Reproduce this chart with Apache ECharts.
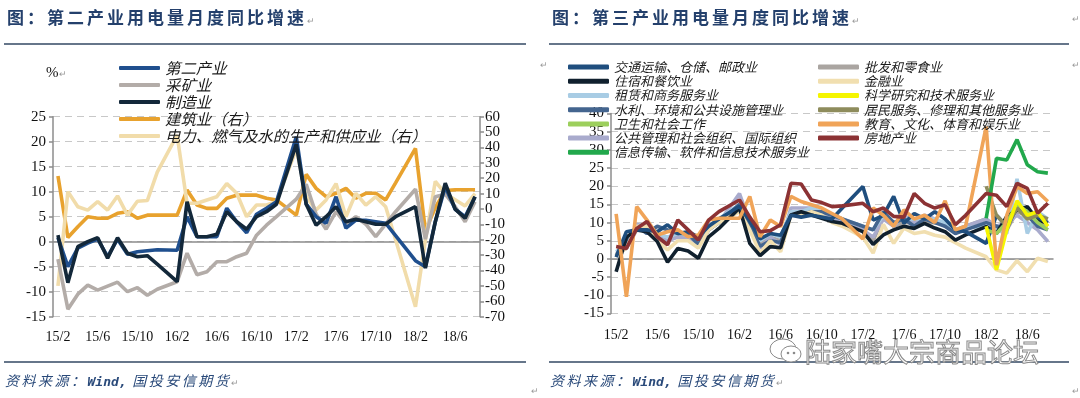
<!DOCTYPE html>
<html lang="zh">
<head>
<meta charset="UTF-8">
<title>用电量月度同比增速</title>
<script src="https://cdn.jsdelivr.net/npm/echarts@6/dist/echarts.min.js"></script>
<style>
    html,
    body {
        margin: 0;
        padding: 0;
    }

    body {
        width: 1080px;
        height: 398px;
        position: relative;
        overflow: hidden;
        background: #fff;
        font-family: "Noto Sans CJK SC", sans-serif;
    }

    .chart {
        position: absolute;
        top: 0;
        width: 540px;
        height: 398px;
    }

    .title {
        position: absolute;
        top: 5px;
        line-height: 24px;
        font-size: 17px;
        font-weight: bold;
        letter-spacing: 3px;
        color: #24406c;
    }

    .rule {
        position: absolute;
        height: 2px;
        background: #66768a;
    }

    .source {
        position: absolute;
        top: 370px;
        line-height: 20px;
        font-size: 14px;
        font-style: italic;
        letter-spacing: 2.5px;
        color: #2a4a7a;
    }

    .source b {
        font-family: "DejaVu Sans Mono", monospace;
        font-size: 13px;
        letter-spacing: 0;
    }

    .mark {
        font-size: 9px;
        color: #9a9a9a;
        font-weight: normal;
        font-style: normal;
        letter-spacing: 0;
    }

    .pos {
        position: absolute;
    }

    .pct {
        position: absolute;
        left: 46px;
        top: 64px;
        font-size: 15px;
        font-family: "Liberation Serif", serif;
        color: #111;
    }

    .wm {
        position: absolute;
        left: 805px;
        top: 334px;
        line-height: 34px;
        font-size: 26px;
        color: #fff;
        -webkit-text-stroke: 1px #8a8a8a;
    }
</style>
</head>
<body>
<div class="chart" id="c1" style="left:0"></div>
<div class="chart" id="c2" style="left:540px"></div>

<div class="title" style="left:7px">图：第二产业用电量月度同比增速<span class="mark">↵</span></div>
<div class="title" style="left:552px">图：第三产业用电量月度同比增速<span class="mark">↵</span></div>
<div class="rule" style="left:4px;width:522px;top:43px"></div>
<div class="rule" style="left:549px;width:520px;top:43px"></div>
<div class="rule" style="left:4px;width:522px;top:361px"></div>
<div class="rule" style="left:549px;width:520px;top:361px"></div>
<div class="pct">%<span class="mark">↵</span></div>
<div class="source" style="left:5px">资料来源：<b>Wind,</b> 国投安信期货<span class="mark">↵</span></div>
<div class="source" style="left:550px">资料来源：<b>Wind,</b> 国投安信期货<span class="mark">↵</span></div>
<span class="mark pos" style="left:531px;top:384px">↵</span>
<span class="mark pos" style="left:540px;top:58px">↵</span>
<span class="mark pos" style="left:1072px;top:12px">↵</span>
<span class="mark pos" style="left:1072px;top:58px">↵</span>
<span class="mark pos" style="left:1072px;top:384px">↵</span>
<svg class="pos" style="left:768px;top:336px" width="36" height="30">
    <ellipse cx="15" cy="13" rx="13" ry="10" fill="#fff" stroke="#8a8a8a" stroke-width="1" />
    <ellipse cx="23" cy="18" rx="10" ry="8" fill="#fff" stroke="#8a8a8a" stroke-width="1" />
    <circle cx="20" cy="17" r="1.3" fill="#8a8a8a" />
    <circle cx="26" cy="17" r="1.3" fill="#8a8a8a" />
</svg>
<div class="wm">陆家嘴大宗商品论坛</div>

<script>
    // 月份（1月数据空缺，线段直接相连）
    var months = ['15/2', '15/3', '15/4', '15/5', '15/6', '15/7', '15/8', '15/9', '15/10', '15/11', '15/12',
        '16/1', '16/2', '16/3', '16/4', '16/5', '16/6', '16/7', '16/8', '16/9', '16/10', '16/11', '16/12',
        '17/1', '17/2', '17/3', '17/4', '17/5', '17/6', '17/7', '17/8', '17/9', '17/10', '17/11', '17/12',
        '18/1', '18/2', '18/3', '18/4', '18/5', '18/6', '18/7', '18/8'];

    // 第二产业图（左轴）
    var secondary = [0.8, -5.0, -1.3, -0.3, 0.5, -3.0, 0.5, -2.5, -2.0, -1.8, -1.6, null,
        -1.7, 5.0, 1.0, 1.0, 1.0, 6.7, 4.0, 1.8, 5.5, 6.7, 8.0, null,
        21.0, 7.5, 5.0, 3.7, 9.0, 2.7, 4.3, 4.3, 4.0, 3.7, 1.2, null,
        -3.8, -5.0, 4.0, 11.0, 6.5, 5.0, 9.0];
    var mining = [-3.5, -13.5, -10.5, -8.7, -9.7, -8.9, -8.1, -10.0, -9.2, -10.7, -9.5, null,
        -8.0, -2.3, -6.6, -6.0, -4.0, -4.0, -3.0, -2.3, 1.3, 3.3, 5.0, null,
        8.5, 11.5, 5.5, 2.5, 6.0, 3.5, 5.0, 3.5, 1.0, 3.5, 6.0, null,
        10.5, 0.5, 9.0, 9.5, 7.0, 4.0, 8.0];
    var manufacturing = [1.3, -8.2, -1.0, 0.0, 0.8, -3.3, 0.8, -2.3, -3.0, -2.8, -4.5, null,
        -8.0, 8.0, 1.0, 1.0, 1.5, 6.0, 4.0, 2.5, 5.0, 6.0, 7.5, null,
        19.5, 7.5, 3.3, 5.0, 7.0, 4.0, 4.5, 4.0, 3.5, 3.5, 5.0, null,
        7.0, -5.3, 4.0, 11.7, 6.5, 4.7, 9.0];
    // 右轴
    var construction = [21.5, -18.5, -11.5, -5.0, -6.0, -6.0, -2.8, -1.8, -6.0, -4.0, -4.0, null,
        -4.0, 12.3, 2.6, 0.4, 0.4, 7.0, 9.0, 9.0, 9.0, 7.0, 5.9, null,
        -4.0, 22.5, 13.4, 8.0, 10.2, 13.4, 7.0, 10.2, 10.2, 5.9, 17.0, null,
        39.4, -14.0, 1.0, 12.0, 12.5, 12.5, 12.5];
    var utilities = [-50.0, 11.3, 1.5, -0.7, 4.8, -0.7, 8.5, -4.0, 5.0, 5.5, 24.0, null,
        48.0, 3.7, 3.7, 5.9, 8.0, 16.5, 10.2, -5.0, 2.6, 2.6, 4.8, null,
        39.0, 8.0, -0.7, 5.9, 16.5, -5.0, 10.2, 2.6, 8.0, 1.5, -20.0, null,
        -63.5, -20.0, 18.0, 10.0, 6.0, 2.0, 10.0];

    // 第三产业图
    var transport = [0.5, 7.5, 8.0, 8.0, 7.5, 9.4, 7.0, 7.5, 6.0, 9.0, 11.0, null,
        14.5, 10.5, 5.5, 7.0, 6.5, 12.0, 11.5, 12.0, 11.5, 11.0, 14.0, null,
        19.9, 10.7, 12.0, 17.2, 9.8, 12.5, 11.0, 13.0, 11.0, 8.0, 7.5, null,
        4.3, 12.0, 9.0, 14.0, 12.5, 11.5, 10.0];
    var hotel = [-3.5, 6.0, 8.0, 7.5, 4.8, -0.9, 2.9, 2.2, 0.2, 6.1, 8.4, null,
        14.0, 4.3, 0.9, 3.4, 3.1, 12.1, 13.0, 12.1, 11.2, 10.3, 9.8, null,
        7.5, 4.0, 6.6, 8.0, 9.0, 8.4, 9.8, 8.5, 7.5, 5.2, 6.6, null,
        8.9, 7.0, 11.7, 13.5, 14.4, 10.7, 9.8];
    var leasing = [2.0, 4.0, 9.0, 8.5, 7.0, 6.0, 7.0, 6.5, 5.0, 9.0, 11.0, null,
        15.0, 10.0, 5.0, 7.0, 6.0, 13.0, 13.0, 14.0, 13.0, 12.0, 11.0, null,
        9.0, 8.0, 12.0, 10.0, 11.0, 11.0, 11.0, 11.0, 10.0, 8.0, 8.5, null,
        9.0, 8.0, 7.0, 22.0, 7.0, 13.0, 11.0];
    var water = [1.0, 5.0, 9.0, 7.0, 9.0, 8.0, 7.0, 7.0, 4.0, 8.0, 10.0, null,
        15.0, 9.0, 3.5, 5.0, 4.5, 12.0, 12.0, 13.0, 13.0, 12.0, 11.0, null,
        9.0, 8.0, 13.0, 10.0, 11.0, 9.0, 11.0, 10.0, 9.0, 7.0, 8.0, null,
        10.0, 9.0, 8.0, 15.0, 12.0, 9.0, 8.0];
    var health = [null, null, null, null, null, null, null, null, null, null, null, null,
        null, null, null, null, null, null, null, null, null, null, null, null,
        null, null, null, null, null, null, null, null, null, null, null, null,
        8.0, 7.0, 10.0, 15.0, 13.0, 10.0, 8.0];
    var publicOrg = [1.5, 3.0, 9.5, 9.0, 6.0, 5.0, 6.0, 6.0, 3.5, 8.0, 10.0, null,
        18.0, 10.0, 3.0, 6.0, 4.0, 14.0, 14.0, 14.0, 12.0, 11.0, 10.0, null,
        8.0, 6.0, 11.0, 9.0, 12.0, 10.0, 12.0, 11.0, 9.0, 8.0, 9.0, null,
        11.0, 9.0, 10.0, 12.0, 10.0, 8.0, 4.8];
    var infoTech = [null, null, null, null, null, null, null, null, null, null, null, null,
        null, null, null, null, null, null, null, null, null, null, null, null,
        null, null, null, null, null, null, null, null, null, null, null, null,
        11.2, 27.7, 27.2, 32.8, 25.9, 24.0, 23.6];
    var wholesale = [1.0, 3.0, 8.0, 9.0, 6.0, 5.0, 6.5, 6.0, 4.0, 9.0, 10.5, null,
        13.5, 9.0, 4.0, 6.0, 5.0, 13.0, 13.0, 13.5, 12.5, 11.0, 10.0, null,
        8.0, 5.0, 11.5, 9.0, 10.0, 10.0, 10.0, 10.0, 9.5, 8.0, 9.0, null,
        11.0, 8.0, 8.0, 13.0, 12.0, 10.0, 9.0];
    var finance = [1.0, 3.0, 9.0, 9.0, 5.0, 2.5, 5.0, 5.0, 3.0, 8.0, 10.0, null,
        13.0, 8.0, 1.6, 5.0, 2.0, 12.0, 12.0, 13.0, 12.0, 10.0, 9.0, null,
        6.0, 1.6, 9.5, 4.3, 8.5, 7.0, 7.5, 6.5, 6.0, 4.5, 3.0, null,
        0.6, -3.0, -3.9, -0.5, -3.5, 0.2, -0.7];
    var science = [null, null, null, null, null, null, null, null, null, null, null, null,
        null, null, null, null, null, null, null, null, null, null, null, null,
        null, null, null, null, null, null, null, null, null, null, null, null,
        9.0, -3.0, 8.0, 16.0, 12.0, 13.0, 9.0];
    var resident = [null, null, null, null, null, null, null, null, null, null, null, null,
        null, null, null, null, null, null, null, null, null, null, null, null,
        null, null, null, null, null, null, null, null, null, null, null, null,
        20.0, 12.0, 9.0, 14.0, 11.0, 12.0, 11.0];
    var education = [12.4, -10.4, 14.4, 10.7, 6.6, 7.5, 8.0, 6.1, 6.6, 10.7, 11.2, null,
        11.2, 17.2, 6.1, 10.7, 8.9, 17.2, 15.8, 14.9, 14.0, 12.5, 11.0, null,
        5.5, 14.0, 12.0, 9.0, 13.5, 11.0, 12.0, 10.0, 16.0, 8.0, 9.0, null,
        36.4, -1.7, 12.0, 19.9, 18.0, 18.5, 15.8];
    var realEstate = [3.4, 2.9, 8.4, 10.3, 6.1, 3.9, 10.7, 8.0, 5.2, 10.7, 13.0, null,
        16.2, 11.5, 7.5, 7.8, 9.4, 20.8, 20.6, 16.2, 15.5, 14.4, 14.6, null,
        15.3, 13.0, 14.0, 11.7, 11.5, 18.0, 15.3, 14.0, 14.9, 9.4, 12.0, null,
        18.0, 17.5, 14.4, 20.8, 19.4, 12.6, 15.3];

    var serifFont = '"Liberation Serif", "Times New Roman", serif';
    var cjkFont = '"Noto Sans CJK SC", sans-serif';
    var axisColor = '#8c8c8c';

    function line(name, data, color, yIdx) {
        return {
            name: name,
            type: 'line',
            data: data,
            yAxisIndex: yIdx || 0,
            symbol: 'none',
            connectNulls: true,
            lineStyle: { width: 3.6, color: color },
            itemStyle: { color: color },
            emphasis: { disabled: true }
        };
    }

    function xAxes(labelMargin) {
        return [{
            type: 'category',
            data: months,
            position: 'bottom',
            axisLine: { show: false, onZero: false },
            axisTick: { show: false },
            axisLabel: { interval: 3, fontFamily: serifFont, fontSize: 14, color: '#111', margin: labelMargin }
        }, {
            // 0 轴那条横线和刻度
            type: 'category',
            data: months,
            position: 'bottom',
            axisLine: { onZero: true, onZeroAxisIndex: 0, lineStyle: { color: axisColor, width: 1.5 } },
            axisTick: { interval: 3, length: 5, lineStyle: { color: axisColor, width: 1.5 } },
            axisLabel: { show: false }
        }];
    }

    function valueAxis(min, max, step, pos, split) {
        return {
            type: 'value',
            min: min,
            max: max,
            interval: step,
            position: pos,
            axisLine: { show: true, lineStyle: { color: axisColor, width: 1.5 } },
            axisTick: { show: true, length: 4, lineStyle: { color: axisColor, width: 1.5 } },
            axisLabel: { fontFamily: serifFont, fontSize: 15, color: '#111', margin: pos == 'left' ? 7 : 5 },
            splitLine: { show: split, lineStyle: { type: [7, 5], color: '#c8c8c8', width: 1 } }
        };
    }

    var legendText = { fontFamily: cjkFont, fontStyle: 'italic', color: '#1a1a1a' };

    var chart1 = echarts.init(document.getElementById('c1'));
    chart1.setOption({
        animation: false,
        grid: { left: 53, right: 60, top: 116.7, bottom: 81.3 },
        legend: {
            orient: 'vertical',
            left: 119,
            top: 59.5,
            padding: 0,
            itemWidth: 41,
            itemHeight: 4,
            itemGap: 0,
            icon: 'roundRect',
            data: ['第二产业', '采矿业', '制造业', '建筑业（右）', '电力、燃气及水的生产和供应业（右）'],
            textStyle: Object.assign({ fontSize: 15.4, lineHeight: 17 }, legendText)
        },
        xAxis: xAxes(14),
        yAxis: [valueAxis(-15, 25, 5, 'left', true), valueAxis(-70, 60, 10, 'right', false)],
        series: [
            line('建筑业（右）', construction, '#e8a22e', 1),
            line('电力、燃气及水的生产和供应业（右）', utilities, '#f1dcaa', 1),
            line('采矿业', mining, '#b3aca8'),
            line('第二产业', secondary, '#1f4f8e'),
            line('制造业', manufacturing, '#13283a')
        ]
    });

    var chart2 = echarts.init(document.getElementById('c2'));
    var legend2 = {
        orient: 'vertical',
        top: 60,
        padding: 0,
        itemWidth: 41,
        itemHeight: 5,
        itemGap: 0,
        icon: 'roundRect',
        textStyle: Object.assign({ fontSize: 13, lineHeight: 14.2 }, legendText)
    };
    chart2.setOption({
        animation: false,
        grid: { left: 71, right: 27, top: 113.5, bottom: 84.5 },
        legend: [
            Object.assign({ left: 28, data: ['交通运输、仓储、邮政业', '住宿和餐饮业', '租赁和商务服务业', '水利、环境和公共设施管理业', '卫生和社会工作', '公共管理和社会组织、国际组织', '信息传输、软件和信息技术服务业'] }, legend2),
            Object.assign({ left: 278, data: ['批发和零食业', '金融业', '科学研究和技术服务业', '居民服务、修理和其他服务业', '教育、文化、体育和娱乐业', '房地产业'] }, legend2)
        ],
        xAxis: xAxes(15),
        yAxis: valueAxis(-15, 40, 5, 'left', true),
        series: [
            line('批发和零食业', wholesale, '#aaa5a1'),
            line('公共管理和社会组织、国际组织', publicOrg, '#a9abcd'),
            line('租赁和商务服务业', leasing, '#a8cce4'),
            line('水利、环境和公共设施管理业', water, '#44658f'),
            line('金融业', finance, '#f1dfb0'),
            line('住宿和餐饮业', hotel, '#10202e'),
            line('交通运输、仓储、邮政业', transport, '#1f4e7e'),
            line('卫生和社会工作', health, '#9ccf5c'),
            line('居民服务、修理和其他服务业', resident, '#8e8c5c'),
            line('科学研究和技术服务业', science, '#f5f500'),
            line('教育、文化、体育和娱乐业', education, '#f0a458'),
            line('信息传输、软件和信息技术服务业', infoTech, '#22a84c'),
            line('房地产业', realEstate, '#8c3234')
        ]
    });
</script>
</body>
</html>
